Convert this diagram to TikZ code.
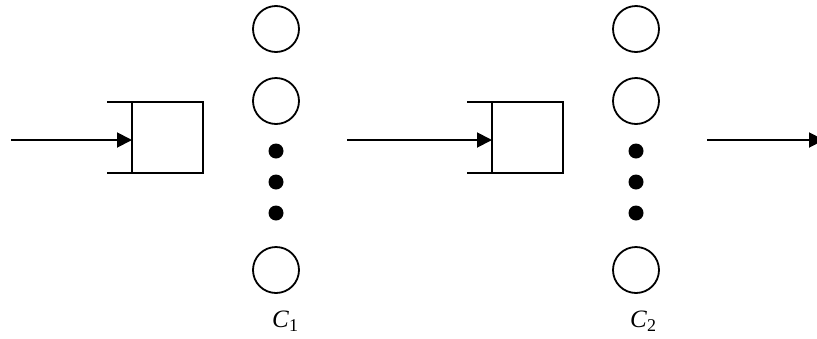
\documentclass[tikz,border=0pt]{standalone}
\usepackage{fontspec}
\setmainfont{Liberation Serif}
\usetikzlibrary{arrows.meta}
\begin{document}
\begin{tikzpicture}[x=1pt,y=-1pt,
  ln/.style={line width=1.9pt},
  arr/.style={ln,-{Triangle[length=15pt,width=15pt]}},
  queuebox/.style={draw,ln,minimum width=71pt,minimum height=71pt,inner sep=0pt,outer sep=0pt},
  server/.style={draw,line width=1.8pt,circle,minimum size=46pt,inner sep=0pt},
  dotnode/.style={fill=black,circle,minimum size=15pt,inner sep=0pt},
  lbl/.style={font=\fontsize{25}{28}\selectfont,inner sep=0pt,anchor=west}]
\useasboundingbox (0,0) rectangle (817,338);
\clip (0,0) rectangle (817,338);
% stage 1
\node[queuebox] (q1) at (167.5,137.5) {};
\coordinate (q1t) at (107,102);
\coordinate (q1b) at (107,173);
\draw[ln] (q1t) -- (q1.north west);
\draw[ln] (q1b) -- (q1.south west);
\coordinate (in1) at (11,140);
\draw[arr] (in1) -- (in1 -| q1.west);
\node[server] (s11) at (276,29) {};
\node[server] (s12) at (276,101) {};
\node[dotnode] (d11) at (276,151) {};
\node[dotnode] (d12) at (276,182) {};
\node[dotnode] (d13) at (276,213) {};
\node[server] (s13) at (276,270) {};
\node[lbl] (c1) at (272,321) {\textit{C}\textsubscript{\fontsize{18}{20}\selectfont 1}};
% stage 2
\node[queuebox] (q2) at (527.5,137.5) {};
\coordinate (q2t) at (467,102);
\coordinate (q2b) at (467,173);
\draw[ln] (q2t) -- (q2.north west);
\draw[ln] (q2b) -- (q2.south west);
\coordinate (in2) at (347,140);
\draw[arr] (in2) -- (in2 -| q2.west);
\node[server] (s21) at (636,29) {};
\node[server] (s22) at (636,101) {};
\node[dotnode] (d21) at (636,151) {};
\node[dotnode] (d22) at (636,182) {};
\node[dotnode] (d23) at (636,213) {};
\node[server] (s23) at (636,270) {};
\node[lbl] (c2) at (630,321) {\textit{C}\textsubscript{\fontsize{18}{20}\selectfont 2}};
% output
\coordinate (out0) at (707,140);
\coordinate (out1) at (824,140);
\draw[arr] (out0) -- (out1);
\end{tikzpicture}
\end{document}
